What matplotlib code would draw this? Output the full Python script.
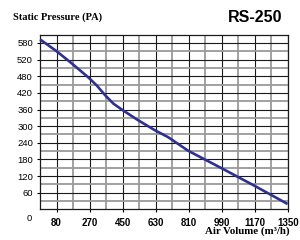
import numpy as np
import matplotlib.pyplot as plt

# fan curve (grid units: x 0-1350, y 0-630)
air_volume = [0, 87, 170, 263, 310, 354, 400, 445, 535, 626, 698, 807, 989, 1170, 1348]
pressure = [613, 572, 528, 476, 446, 412, 381, 360, 321, 285, 260, 211, 148, 84, 19]

x_ticks = [90, 270, 450, 630, 810, 990, 1170, 1350]
x_labels = ['80', '270', '450', '630', '810', '990', '1170', '1350']
y_ticks = [60, 120, 180, 240, 300, 360, 420, 480, 540, 600]
y_labels = ['60', '120', '180', '240', '300', '360', '420', '480', '520', '580']

fig = plt.figure(figsize=(3, 2.4), dpi=100)
ax = fig.add_axes([0.1333, 0.128, 0.8267, 0.7275])

ax.set_xlim(0, 1350)
ax.set_ylim(0, 630)

# gray lines in between, black lines on the labelled values
ax.set_xticks(np.arange(180, 1350, 180), minor=True)
ax.set_yticks(np.arange(30, 630, 60), minor=True)
ax.grid(which='minor', color='#9a9a9a', linewidth=1.3)
ax.set_xticks(x_ticks)
ax.set_yticks(y_ticks)
ax.grid(which='major', color='#1a1a1a', linewidth=0.8)
ax.set_axisbelow(True)

ax.set_xticklabels(x_labels, fontsize=7, fontweight='bold', family='Liberation Sans')
ax.set_yticklabels(y_labels, fontsize=6.8, family='Liberation Sans')
ax.tick_params(which='major', length=2, width=0.8, pad=3)
ax.tick_params(which='minor', length=0)
ax.tick_params(axis='x', pad=4)

for s in ax.spines.values():
    s.set_color('#1a1a1a')
    s.set_linewidth(0.9)

ax.plot(air_volume, pressure, color='#2e3192', linewidth=1.9, solid_capstyle='butt', clip_on=False, zorder=3)

ax.text(-0.045, -0.055, '0', transform=ax.transAxes, ha='center', va='center', fontsize=6.8, family='Liberation Sans')

fig.text(0.043, 0.93, 'Static Pressure (PA)', fontsize=7.5, fontweight='bold',
         family='Liberation Serif', ha='left', va='center')
fig.text(0.94, 0.925, 'RS-250', fontsize=11.5, fontweight='bold',
         family='Liberation Sans', ha='right', va='center')
fig.text(0.967, 0.038, 'Air Volume (m³/h)', fontsize=7.8, fontweight='bold',
         family='Liberation Serif', ha='right', va='center')

fig.savefig('out.png', dpi=100)
